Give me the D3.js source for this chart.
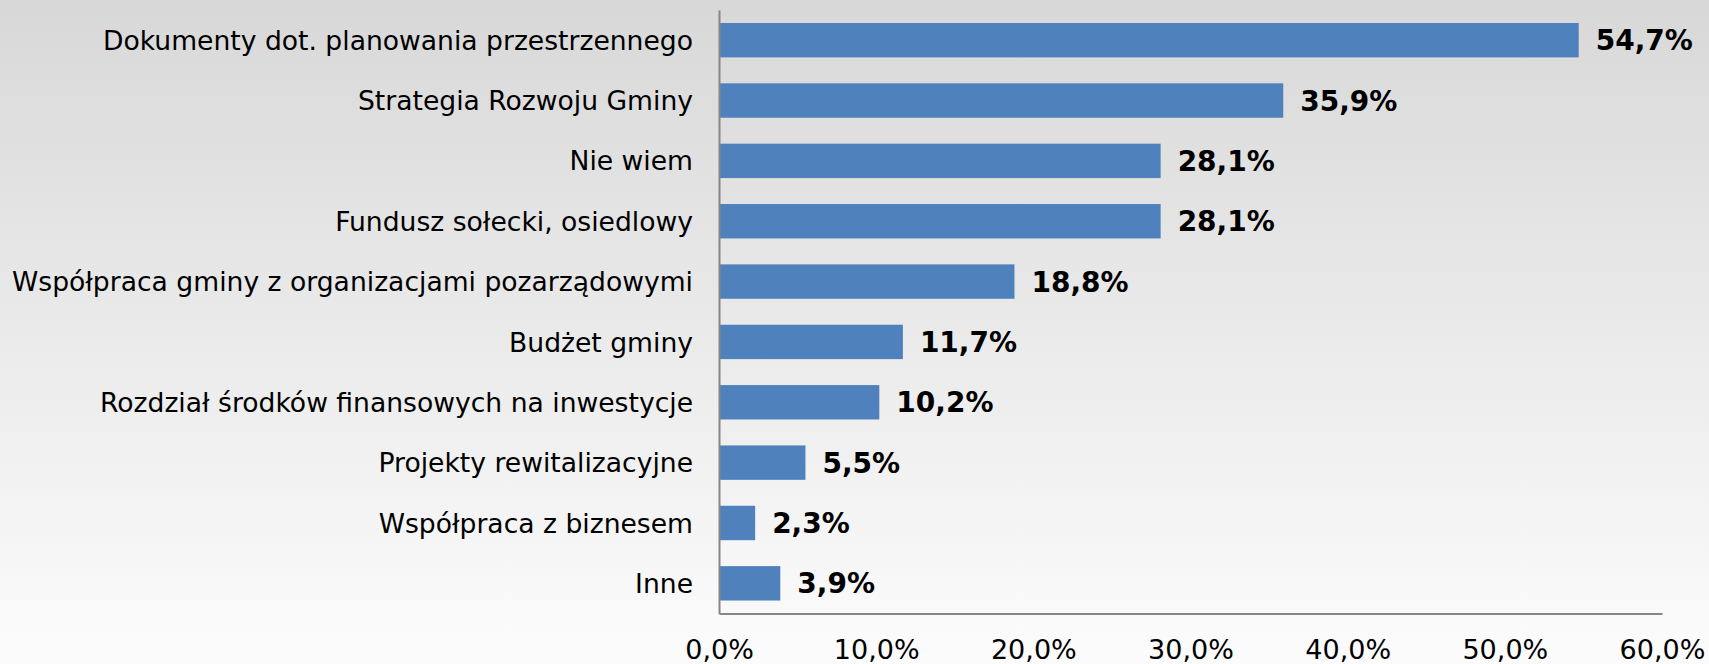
<!DOCTYPE html>
<html lang="pl">
<head>
    <meta charset="UTF-8">
    <title>Wykres słupkowy</title>
    <script src="https://d3js.org/d3.v7.min.js"></script>
    <style>
        body {
            margin: 0;
            background: #fff;
        }
        svg {
            display: block;
            font-family: "DejaVu Sans", Verdana, sans-serif;
        }
        .axis path {
            stroke: #868686;
            stroke-width: 2px;
        }
        .axis text {
            fill: #000;
            font-family: "DejaVu Sans", Verdana, sans-serif;
        }
        .y-axis text {
            font-size: 26.6px;
        }
        .x-axis text {
            font-size: 27px;
        }
        .bar {
            fill: #4f81bd;
        }
        .value {
            font-weight: bold;
            font-size: 28px;
            fill: #000;
        }
    </style>
</head>
<body>
<div id="chart"></div>
<script>
    // categories (top to bottom) and their shares in %
    const categories = [
        "Dokumenty dot. planowania przestrzennego",
        "Strategia Rozwoju Gminy",
        "Nie wiem",
        "Fundusz sołecki, osiedlowy",
        "Współpraca gminy z organizacjami pozarządowymi",
        "Budżet gminy",
        "Rozdział środków finansowych na inwestycje",
        "Projekty rewitalizacyjne",
        "Współpraca z biznesem",
        "Inne"
    ];
    const values = [54.7, 35.9, 28.1, 28.1, 18.8, 11.7, 10.2, 5.5, 2.3, 3.9];
    const xTicks = [0, 10, 20, 30, 40, 50, 60];

    const data = categories.map((c, i) => ({ name: c, value: values[i] }));

    const W = 1709, H = 664;
    const margin = { top: 10, right: 47, bottom: 50.5, left: 719 };
    const width = W - margin.left - margin.right,
        height = H - margin.top - margin.bottom;

    const fmt = v => d3.format(".1f")(v).replace(".", ",") + "%";

    const svg = d3.select("#chart")
        .append("svg")
        .attr("width", W)
        .attr("height", H);

    // background gradient
    const grad = svg.append("defs").append("linearGradient")
        .attr("id", "bg")
        .attr("x1", 0).attr("y1", 0)
        .attr("x2", 0).attr("y2", 1);
    grad.append("stop").attr("offset", "0%").attr("stop-color", "#d8d8d8");
    grad.append("stop").attr("offset", "100%").attr("stop-color", "#fcfcfc");

    svg.append("rect")
        .attr("width", W)
        .attr("height", H)
        .attr("fill", "url(#bg)");

    const g = svg.append("g")
        .attr("transform", `translate(${margin.left},${margin.top})`);

    const x = d3.scaleLinear()
        .domain([0, 60])
        .range([0, width]);

    const y = d3.scaleBand()
        .domain(categories)
        .range([0, height])
        .paddingInner(0.43)
        .paddingOuter(0.215);

    g.selectAll(".bar")
        .data(data)
        .enter()
        .append("rect")
        .attr("class", "bar")
        .attr("x", x(0))
        .attr("y", d => y(d.name))
        .attr("width", d => x(d.value) - x(0))
        .attr("height", y.bandwidth());

    // value labels
    g.selectAll(".value")
        .data(data)
        .enter()
        .append("text")
        .attr("class", "value")
        .attr("x", d => x(d.value) + 17)
        .attr("y", d => y(d.name) + y.bandwidth() / 2)
        .attr("dy", "0.36em")
        .text(d => fmt(d.value));

    // axes
    const yAxis = g.append("g")
        .attr("class", "axis y-axis")
        .call(d3.axisLeft(y).tickSize(0).tickPadding(26));
    yAxis.selectAll("text")
        .attr("dy", "0.36em");

    g.append("g")
        .attr("class", "axis x-axis")
        .attr("transform", `translate(0,${height})`)
        .call(d3.axisBottom(x).tickValues(xTicks).tickSize(0).tickPadding(26).tickFormat(fmt));
</script>
</body>
</html>
